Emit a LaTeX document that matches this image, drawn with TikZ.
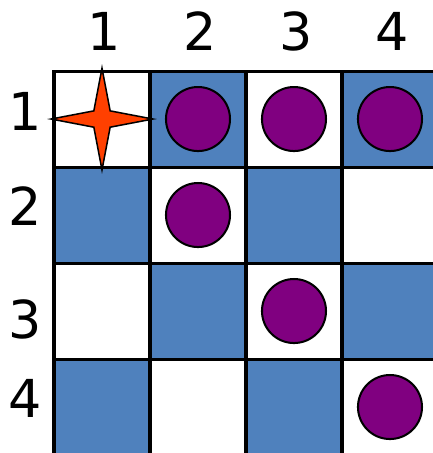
\documentclass[tikz,border=0pt]{standalone}
\usepackage{fontspec}
\setmainfont{DejaVu Sans}
\definecolor{cellblue}{HTML}{4F81BD}
\definecolor{queenpurple}{HTML}{800080}
\definecolor{starred}{HTML}{FF4000}
\begin{document}
\begin{tikzpicture}[x=2cm,y=-2cm,
    idxlabel/.style={font=\fontsize{31}{31}\selectfont,inner sep=0pt},
    queen/.style={draw=black,line width=1.2pt,fill=queenpurple},
    gridline/.style={line width=1.8pt,line cap=rect}]
    \useasboundingbox (-0.5625,-0.74) rectangle (3.948,3.979);
    \foreach \r in {1,...,4}{
        \foreach \c in {1,...,4}{
            \pgfmathtruncatemacro{\odd}{mod(\r+\c,2)}
            \ifnum\odd=1
                \fill[cellblue] (\c-1,\r-1) rectangle (\c,\r);
            \fi
        }
    }
    \foreach \n in {0,1,2,3}{
        \draw[gridline] (\n,0)--(\n,4.2);
        \draw[gridline] (0,\n)--(4.2,\n);
    }
    \foreach \r/\c in {1/2, 1/3, 1/4, 2/2, 3/3, 4/4}{
        \draw[queen] (\c-0.5,\r-0.5) circle (0.667cm);
    }
    \filldraw[fill=starred,draw=black,line width=0.9pt]
        (0.5,-0.03)--(0.585,0.415)--(1.03,0.5)--(0.585,0.585)--(0.5,1.03)
        --(0.415,0.585)--(-0.03,0.5)--(0.415,0.415)--cycle;
    \foreach \c in {1,...,4}{
        \node[idxlabel] (col\c) at (\c-0.475,-0.417) {\c};
    }
    \foreach \r/\y in {1/0.422, 2/1.411, 3/2.589, 4/3.411}{
        \node[idxlabel] (row\r) at (-0.302,\y) {\r};
    }
\end{tikzpicture}
\end{document}
